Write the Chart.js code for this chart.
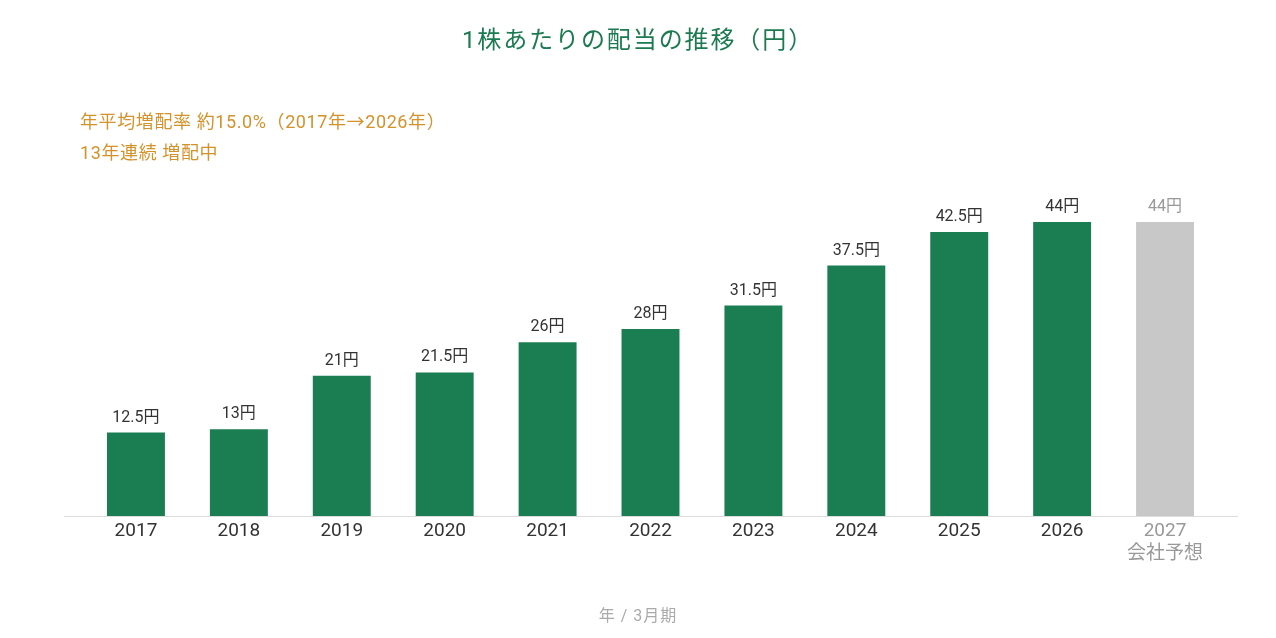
<!DOCTYPE html>
<html>
<head>
<meta charset="utf-8">
<script src="https://cdn.jsdelivr.net/npm/chart.js@4"></script>
<style>
  body { margin:0; background:#fff; font-family:Roboto,"Noto Sans CJK JP",sans-serif; }
  #wrap { position:relative; width:1276px; height:638px; }
  #chart { position:absolute; left:0; top:0; }
  .title { position:absolute; top:20px; left:0; width:1276px; text-align:center; font-size:24px; color:#1b7a50; letter-spacing:1.9px; }
  .sub { position:absolute; left:80px; font-size:18px; color:#d4922b; letter-spacing:0.6px; }
  .unit { position:absolute; top:602px; left:0; width:1276px; text-align:center; font-size:16px; color:#aaa; letter-spacing:1px; }
</style>
</head>
<body>
<div id="wrap">
  <canvas id="chart" width="1276" height="638"></canvas>
  <div class="title">1株あたりの配当の推移（円）</div>
  <div class="sub" style="top:107px">年平均増配率 約15.0%（2017年→2026年）</div>
  <div class="sub" style="top:138px">13年連続 増配中</div>
  <div class="unit">年 / 3月期</div>
</div>
<script>
const years = ['2017','2018','2019','2020','2021','2022','2023','2024','2025','2026',['2027','会社予想']];
const dividends = [12.5, 13, 21, 21.5, 26, 28, 31.5, 37.5, 42.5, 44, 44];
const forecastIndex = 10;

const green = '#1b7d52';
const grey = '#c8c8c8';
const fontFamily = 'Roboto,"Noto Sans CJK JP",sans-serif';

// value labels above bars
const valueLabels = {
    id:'valueLabels',
    afterDatasetsDraw(chart){
        const ctx = chart.ctx;
        const meta = chart.getDatasetMeta(0);
        ctx.save();
        ctx.font = '16px ' + fontFamily;
        ctx.textAlign = 'center';
        ctx.textBaseline = 'bottom';
        meta.data.forEach((bar, i)=>{
            ctx.fillStyle = i === forecastIndex ? '#999' : '#333';
            ctx.fillText(dividends[i] + '円', bar.x, bar.y - 7);
        });
        ctx.restore();
    }
};

// baseline that runs a bit wider than the bars
const baseLine = {
    id:'baseLine',
    beforeDatasetsDraw(chart){
        const ctx = chart.ctx;
        const y = chart.scales.y.getPixelForValue(0);
        ctx.save();
        ctx.strokeStyle = '#dddddd';
        ctx.lineWidth = 1;
        ctx.beginPath();
        ctx.moveTo(64, y + 0.5);
        ctx.lineTo(1238, y + 0.5);
        ctx.stroke();
        ctx.restore();
    }
};

new Chart(document.getElementById('chart'), {
    type:'bar',
    data:{
        labels: years,
        datasets:[{
            data: dividends,
            backgroundColor: dividends.map((v,i)=> i === forecastIndex ? grey : green),
            categoryPercentage: 1,
            barPercentage: 0.563
        }]
    },
    options:{
        responsive:false,
        animation:false,
        layout:{ padding:{ left:84.5, right:59.5, top:182, bottom:0 } },
        plugins:{ legend:{display:false}, tooltip:{enabled:false} },
        scales:{
            x:{
                grid:{display:false, drawTicks:false},
                border:{display:false},
                ticks:{
                    font:{size:19, family:fontFamily},
                    color: c => c.index === forecastIndex ? '#999' : '#333',
                    padding:4,
                    maxRotation:0
                },
                afterFit(scale){ scale.height = 122; }
            },
            y:{
                display:false,
                min:0,
                max:50
            }
        }
    },
    plugins:[valueLabels, baseLine]
});
</script>
</body>
</html>
